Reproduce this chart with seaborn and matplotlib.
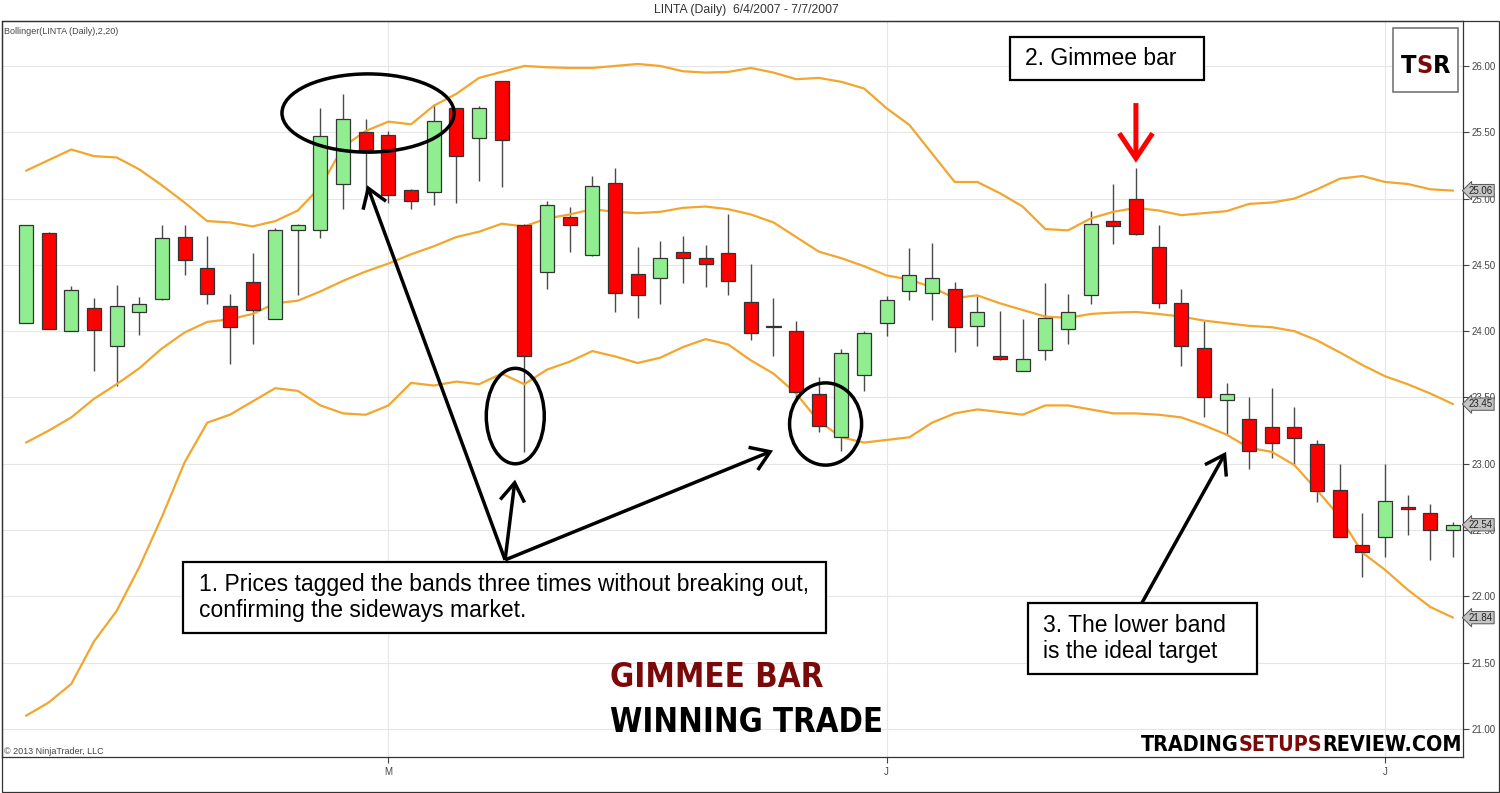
import numpy as np
import pandas as pd
import matplotlib
matplotlib.use("Agg")
import matplotlib.pyplot as plt
import seaborn as sns
from matplotlib import font_manager as fm
from matplotlib.patches import Ellipse, Rectangle, FancyArrowPatch
from matplotlib.transforms import blended_transform_factory

# daily OHLC
opens = [24.06, 24.74, 24.00, 24.175, 23.89, 24.145, 24.24, 24.71, 24.48, 24.19,
         24.37, 24.09, 24.76, 24.76, 25.11, 25.50, 25.48, 25.065, 25.05, 25.68,
         25.46, 25.89, 24.80, 24.45, 24.86, 24.575, 25.12, 24.43, 24.40, 24.60,
         24.55, 24.59, 24.22, 24.03, 24.00, 23.53, 23.20, 23.67, 24.06, 24.30,
         24.29, 24.32, 24.04, 23.81, 23.70, 23.86, 24.02, 24.27, 24.83, 25.00,
         24.635, 24.21, 23.87, 23.48, 23.34, 23.28, 23.28, 23.15, 22.80, 22.39,
         22.45, 22.67, 22.63, 22.50]
highs = [24.80, 24.75, 24.34, 24.25, 24.35, 24.26, 24.80, 24.80, 24.72, 24.28,
         24.59, 24.78, 24.81, 25.68, 25.79, 25.60, 25.51, 25.07, 25.71, 25.68,
         25.70, 25.89, 24.81, 24.98, 24.94, 25.17, 25.23, 24.635, 24.68, 24.72,
         24.65, 24.88, 24.51, 24.25, 24.08, 23.655, 23.865, 24.00, 24.265, 24.63,
         24.665, 24.37, 24.265, 24.15, 24.09, 24.36, 24.28, 24.91, 25.11, 25.23,
         24.80, 24.32, 24.08, 23.61, 23.50, 23.57, 23.43, 23.18, 23.00, 22.63,
         23.00, 22.765, 22.70, 22.56]
lows = [24.06, 24.02, 24.00, 23.70, 23.59, 23.97, 24.235, 24.42, 24.205, 23.75,
        23.90, 24.09, 24.27, 24.70, 24.92, 25.00, 24.97, 24.92, 24.95, 24.97,
        25.13, 25.09, 23.09, 24.32, 24.60, 24.57, 24.145, 24.10, 24.205, 24.36,
        24.33, 24.27, 23.93, 23.81, 23.49, 23.24, 23.10, 23.55, 23.96, 24.235,
        24.085, 23.84, 23.89, 23.78, 23.70, 23.78, 23.90, 24.205, 24.66, 24.725,
        24.175, 23.74, 23.35, 23.22, 22.96, 23.04, 23.00, 22.71, 22.45, 22.15,
        22.30, 22.46, 22.275, 22.30]
closes = [24.80, 24.02, 24.31, 24.01, 24.19, 24.205, 24.70, 24.54, 24.28, 24.03,
          24.16, 24.76, 24.80, 25.47, 25.60, 25.37, 25.03, 24.98, 25.585, 25.32,
          25.68, 25.44, 23.81, 24.95, 24.80, 25.095, 24.29, 24.27, 24.55, 24.55,
          24.51, 24.38, 23.99, 24.04, 23.54, 23.285, 23.835, 23.99, 24.235, 24.42,
          24.40, 24.03, 24.145, 23.79, 23.79, 24.10, 24.145, 24.81, 24.79, 24.73,
          24.21, 23.89, 23.50, 23.53, 23.10, 23.16, 23.195, 22.795, 22.45, 22.335,
          22.72, 22.66, 22.50, 22.54]

# Bollinger(2,20) bands
upper = [25.21, 25.29, 25.37, 25.32, 25.31, 25.22, 25.10, 24.97, 24.83, 24.82,
         24.79, 24.83, 24.91, 25.09, 25.39, 25.51, 25.58, 25.56, 25.70, 25.79,
         25.91, 25.955, 26.00, 25.99, 25.985, 25.985, 26.00, 26.015, 26.00, 25.96,
         25.95, 25.955, 25.985, 25.95, 25.90, 25.91, 25.88, 25.83, 25.68, 25.555,
         25.34, 25.125, 25.125, 25.04, 24.94, 24.77, 24.76, 24.85, 24.90, 24.93,
         24.91, 24.875, 24.89, 24.905, 24.96, 24.97, 25.00, 25.07, 25.15, 25.17,
         25.125, 25.11, 25.07, 25.06]
middle = [23.16, 23.25, 23.35, 23.49, 23.60, 23.72, 23.87, 23.99, 24.07, 24.09,
          24.13, 24.21, 24.23, 24.30, 24.38, 24.45, 24.51, 24.58, 24.64, 24.71,
          24.75, 24.81, 24.79, 24.85, 24.88, 24.92, 24.90, 24.89, 24.90, 24.93,
          24.94, 24.92, 24.88, 24.82, 24.71, 24.60, 24.55, 24.49, 24.42, 24.39,
          24.33, 24.25, 24.27, 24.21, 24.16, 24.11, 24.10, 24.13, 24.14, 24.145,
          24.13, 24.11, 24.08, 24.06, 24.04, 24.03, 24.00, 23.93, 23.84, 23.745,
          23.66, 23.60, 23.53, 23.45]
lower = [21.10, 21.20, 21.34, 21.66, 21.89, 22.22, 22.60, 23.01, 23.31, 23.37,
         23.47, 23.57, 23.55, 23.44, 23.38, 23.37, 23.44, 23.61, 23.59, 23.62,
         23.60, 23.68, 23.60, 23.71, 23.77, 23.85, 23.81, 23.76, 23.80, 23.88,
         23.94, 23.90, 23.78, 23.68, 23.53, 23.32, 23.20, 23.16, 23.18, 23.20,
         23.31, 23.38, 23.41, 23.39, 23.37, 23.44, 23.44, 23.41, 23.38, 23.38,
         23.37, 23.35, 23.29, 23.22, 23.12, 23.09, 22.99, 22.80, 22.60, 22.33,
         22.20, 22.05, 21.92, 21.84]

month_ticks = [16, 38, 60]
month_labels = ["M", "J", "J"]
price_tags = [25.06, 23.45, 22.54, 21.84]

sns.set_style("white")
plt.rcParams['font.family'] = ['Liberation Sans', 'DejaVu Sans']

W, H = 1500, 793
fig = plt.figure(figsize=(15, 7.93), dpi=100)
ax = fig.add_axes([2 / W, (H - 757) / H, (1463 - 2) / W, (757 - 21) / H])
renderer = fig.canvas.get_renderer()


def fx(x):
    return x / W


def fy(y):
    return 1 - y / H


# find a condensed bold face for the branding, if one is installed
STRETCH = {"ultra-condensed": 100, "extra-condensed": 200, "condensed": 300,
           "semi-condensed": 400, "normal": 500}
WEIGHT = {"normal": 400, "regular": 400, "medium": 500, "semibold": 600, "demibold": 600,
          "bold": 700, "heavy": 800, "black": 900, "light": 300}


def pick_narrow():
    best, best_score = None, None
    for f in fm.fontManager.ttflist:
        st = f.stretch if isinstance(f.stretch, int) else STRETCH.get(str(f.stretch).lower(), 500)
        nm = f.name.lower()
        if "narrow" in nm or "condensed" in nm:
            st = min(st, 300)
        if st > 350 or "mono" in nm or f.style != "normal":
            continue
        wt = f.weight if isinstance(f.weight, int) else WEIGHT.get(str(f.weight).lower(), 400)
        score = abs(wt - 650) + abs(st - 300) * 0.5
        if best_score is None or score < best_score:
            best, best_score = f, score
    if best is None:
        return fm.FontProperties(family="Liberation Sans", weight="bold")
    return fm.FontProperties(fname=best.fname)


brand_fp = pick_narrow()

bars = np.arange(len(opens))
df = pd.DataFrame({"bar": bars, "open": opens, "high": highs, "low": lows,
                   "close": closes, "upper": upper, "middle": middle, "lower": lower})
df["up"] = df["close"] >= df["open"]

# grid
for v in np.arange(21.0, 26.01, 0.5):
    ax.axhline(v, color="#e6e6e6", lw=0.8, zorder=0)
for t in month_ticks:
    ax.axvline(t, color="#e6e6e6", lw=0.8, zorder=0)

# bands
band_color = "#F2A62E"
for col in ["upper", "middle", "lower"]:
    sns.lineplot(data=df, x="bar", y=col, color=band_color, lw=1.6, ax=ax, legend=False, zorder=3)

# candles
ax.vlines(df["bar"], df["low"], df["high"], color="#4a4a4a", lw=1.0, zorder=2)
body = (df["close"] - df["open"]).abs().clip(lower=0.012)
bottom = df[["open", "close"]].min(axis=1)
colors = np.where(df["up"], "#90EE90", "#FF0000")
ax.bar(df["bar"], body, bottom=bottom, width=0.62, color=colors,
       edgecolor="#333333", linewidth=0.9, zorder=4)

ax.set_xlim(-1.06, 63.44)
ax.set_ylim(20.789, 26.339)
ax.set_xlabel("")
ax.set_ylabel("")
ax.yaxis.tick_right()
yt = np.arange(21.0, 26.01, 0.5)
ax.set_yticks(yt)
ax.set_yticklabels([f"{v:.2f}" for v in yt])
ax.set_xticks(month_ticks)
ax.set_xticklabels(month_labels)
ax.tick_params(axis="y", direction="out", length=4, width=0.8, colors="#444444",
               labelsize=7, pad=2, right=True, left=False)
ax.tick_params(axis="x", direction="out", length=4, width=0.8, colors="#444444",
               labelsize=7, pad=3, bottom=True)
for s in ax.spines.values():
    s.set_color("#333333")
    s.set_linewidth(0.9)

# outer frame
fig.patches.append(Rectangle((fx(2), fy(792)), fx(1497), (792 - 21) / H, transform=fig.transFigure,
                             fill=False, edgecolor="#333333", lw=0.9))

fig.text(fx(746), fy(10), "LINTA (Daily)  6/4/2007 - 7/7/2007", ha="center", va="center",
         fontsize=8.8, color="#333333")
fig.text(fx(4), fy(31), "Bollinger(LINTA (Daily),2,20)", ha="left", va="center", fontsize=6.5,
         color="#444444")
fig.text(fx(4), fy(751), "\u00a9 2013 NinjaTrader, LLC", ha="left", va="center", fontsize=6.5,
         color="#444444")

# price tags on the axis
tr = blended_transform_factory(ax.transAxes, ax.transData)
for p in price_tags:
    ax.text(1.004, p, f"{p:.2f}", transform=tr, ha="left", va="center", fontsize=7,
            color="#222222", zorder=10, clip_on=False,
            bbox=dict(boxstyle="larrow,pad=0.12", fc="#c4c4c4", ec="#555555", lw=0.7))

# ellipses marking band tags
for cx, cy, w, h in [(15.1, 25.645, 7.6, 0.59), (21.6, 23.36, 2.56, 0.72), (35.3, 23.30, 3.18, 0.62)]:
    ax.add_patch(Ellipse((cx, cy), w, h, fill=False, ec="black", lw=2.5, zorder=8))


# arrows
def arrow(p0, p1, color="black", lw=2.5, hl=0.6, hw=0.4, ms=22):
    ax.add_patch(FancyArrowPatch(p0, p1, arrowstyle=f"->,head_length={hl},head_width={hw}",
                                 mutation_scale=ms, color=color, lw=lw, zorder=9,
                                 shrinkA=0, shrinkB=0, joinstyle="miter", capstyle="butt"))


origin = (21.15, 22.275)
arrow(origin, (15.06, 25.10))
arrow(origin, (21.59, 22.88))
arrow(origin, (32.98, 23.10))
arrow((49.23, 21.94), (52.98, 23.09))
arrow((49.0, 25.72), (49.0, 25.27), color="#FF0000", lw=3.6, hl=0.75, hw=0.5, ms=24)


# annotation boxes
def note(x0, y0, x1, y1, tx, txt):
    fig.patches.append(Rectangle((fx(x0), fy(y1)), fx(x1 - x0), (y1 - y0) / H, transform=fig.transFigure,
                                 fc="white", ec="black", lw=1.6, zorder=20))
    fig.text(fx(tx), fy((y0 + y1) / 2), txt, ha="left", va="center", fontsize=16.5,
             color="black", zorder=21, linespacing=1.2)


note(183, 562, 826, 633, 199, "1. Prices tagged the bands three times without breaking out,\nconfirming the sideways market.")
note(1010, 37, 1204, 80, 1025, "2. Gimmee bar")
note(1028, 603, 1257, 674, 1043, "3. The lower band\nis the ideal target")

# branding
dark_red = "#7A0A0A"


def width_at(s, size):
    fp = brand_fp.copy()
    fp.set_size(size)
    t = fig.text(0, 0, s, fontproperties=fp)
    w = t.get_window_extent(renderer).width
    t.remove()
    return w


def multicolor(x, y, parts, width_px, max_size):
    total = sum(width_at(s, 10) for s, _ in parts)
    size = min(max_size, 10 * width_px / total)
    xf = fx(x)
    for s, c in parts:
        fp = brand_fp.copy()
        fp.set_size(size)
        t = fig.text(xf, fy(y), s, ha="left", va="baseline", fontproperties=fp, color=c, zorder=22)
        xf += t.get_window_extent(renderer).width / fig.bbox.width


multicolor(610, 687, [("GIMMEE BAR", dark_red)], 212, 36)
multicolor(610, 732, [("WINNING TRADE", "black")], 270, 36)
multicolor(1141, 751, [("TRADING", "black"), ("SETUPS", dark_red), ("REVIEW.COM", "black")], 319, 26)

fig.patches.append(Rectangle((fx(1393), fy(92)), fx(65), 64 / H, transform=fig.transFigure,
                             fc="white", ec="#777777", lw=1.2))
multicolor(1401, 73, [("T", "black"), ("S", dark_red), ("R", "black")], 49, 28)

fig.savefig("out.png", dpi=100)
